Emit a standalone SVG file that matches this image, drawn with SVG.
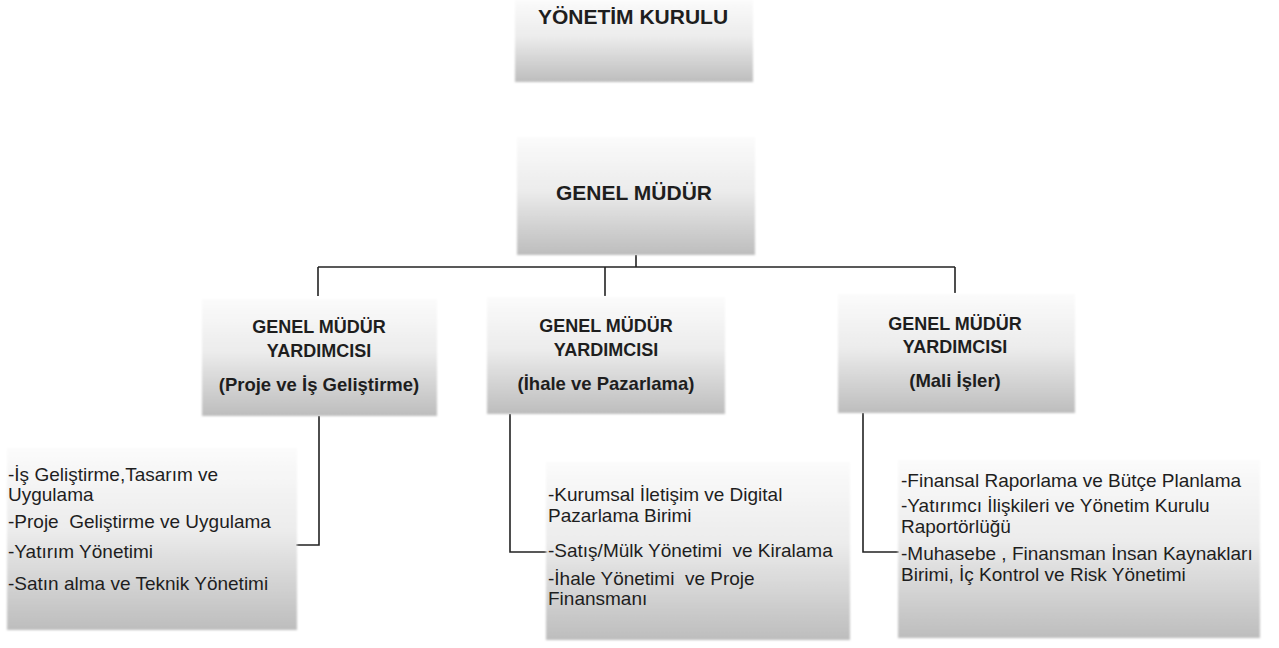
<svg xmlns="http://www.w3.org/2000/svg" width="1279" height="648" viewBox="0 0 1279 648">
  <defs>
    <linearGradient id="g" x1="0" y1="0" x2="0" y2="1">
      <stop offset="0" stop-color="#fbfbfb"/>
      <stop offset="0.45" stop-color="#ececec"/>
      <stop offset="1" stop-color="#bdbdbd"/>
    </linearGradient>
    <filter id="soft" x="-5%" y="-5%" width="110%" height="110%">
      <feGaussianBlur stdDeviation="1.2"/>
    </filter>
  </defs>
  <style>
    .box { fill: url(#g); filter: url(#soft); }
    .hd { font-family: "Liberation Sans", Arial, sans-serif; font-weight: bold; fill: #1e1e1e; text-anchor: middle; }
    .tx { font-family: "Liberation Sans", Arial, sans-serif; font-size: 19px; fill: #1e1e1e; white-space: pre; }
    .ln { fill: none; stroke: #222; stroke-width: 1.6; }
  </style>
  <rect width="1279" height="648" fill="#ffffff"/>

  <g id="connectors">
    <path class="ln" d="M636 255 V267"/>
    <path class="ln" d="M318 267 H955"/>
    <path class="ln" d="M318 267 V296"/>
    <path class="ln" d="M605 267 V296"/>
    <path class="ln" d="M955 267 V293"/>
    <path class="ln" d="M319 416 V545 H296"/>
    <path class="ln" d="M510 414 V552 H548"/>
    <path class="ln" d="M863 413 V552 H899"/>
  </g>

  <g id="yonetim-kurulu">
    <rect class="box" x="515" y="0" width="238" height="82"/>
    <text class="hd" x="633" y="24" font-size="21">YÖNETİM KURULU</text>
  </g>

  <g id="genel-mudur">
    <rect class="box" x="517" y="137" width="238" height="118"/>
    <text class="hd" x="634" y="200" font-size="21">GENEL MÜDÜR</text>
  </g>

  <g id="gmy-proje">
    <rect class="box" x="202" y="299" width="235" height="117"/>
    <text class="hd" x="319" y="333" font-size="18">GENEL MÜDÜR</text>
    <text class="hd" x="319" y="357" font-size="18">YARDIMCISI</text>
    <text class="hd" x="319" y="391" font-size="18.5">(Proje ve İş Geliştirme)</text>
  </g>

  <g id="gmy-ihale">
    <rect class="box" x="487" y="297" width="238" height="117"/>
    <text class="hd" x="606" y="332" font-size="18">GENEL MÜDÜR</text>
    <text class="hd" x="606" y="356" font-size="18">YARDIMCISI</text>
    <text class="hd" x="606" y="390" font-size="18.5">(İhale ve Pazarlama)</text>
  </g>

  <g id="gmy-mali">
    <rect class="box" x="838" y="294" width="237" height="119"/>
    <text class="hd" x="955" y="330" font-size="18">GENEL MÜDÜR</text>
    <text class="hd" x="955" y="353" font-size="18">YARDIMCISI</text>
    <text class="hd" x="955" y="387" font-size="18.5">(Mali İşler)</text>
  </g>

  <g id="birimler-proje">
    <rect class="box" x="7" y="448" width="290" height="182"/>
    <text class="tx" x="8" y="481">-İş Geliştirme,Tasarım ve</text>
    <text class="tx" x="8" y="501">Uygulama</text>
    <text class="tx" x="8" y="528">-Proje  Geliştirme ve Uygulama</text>
    <text class="tx" x="8" y="558">-Yatırım Yönetimi</text>
    <text class="tx" x="8" y="590">-Satın alma ve Teknik Yönetimi</text>
  </g>

  <g id="birimler-ihale">
    <rect class="box" x="546" y="462" width="304" height="178"/>
    <text class="tx" x="548" y="501">-Kurumsal İletişim ve Digital</text>
    <text class="tx" x="548" y="522">Pazarlama Birimi</text>
    <text class="tx" x="548" y="557">-Satış/Mülk Yönetimi  ve Kiralama</text>
    <text class="tx" x="548" y="585">-İhale Yönetimi  ve Proje</text>
    <text class="tx" x="548" y="605">Finansmanı</text>
  </g>

  <g id="birimler-mali">
    <rect class="box" x="898" y="460" width="362" height="178"/>
    <text class="tx" x="901" y="487">-Finansal Raporlama ve Bütçe Planlama</text>
    <text class="tx" x="901" y="512">-Yatırımcı İlişkileri ve Yönetim Kurulu</text>
    <text class="tx" x="901" y="533">Raportörlüğü</text>
    <text class="tx" x="901" y="560">-Muhasebe , Finansman İnsan Kaynakları</text>
    <text class="tx" x="901" y="581">Birimi, İç Kontrol ve Risk Yönetimi</text>
  </g>
</svg>
